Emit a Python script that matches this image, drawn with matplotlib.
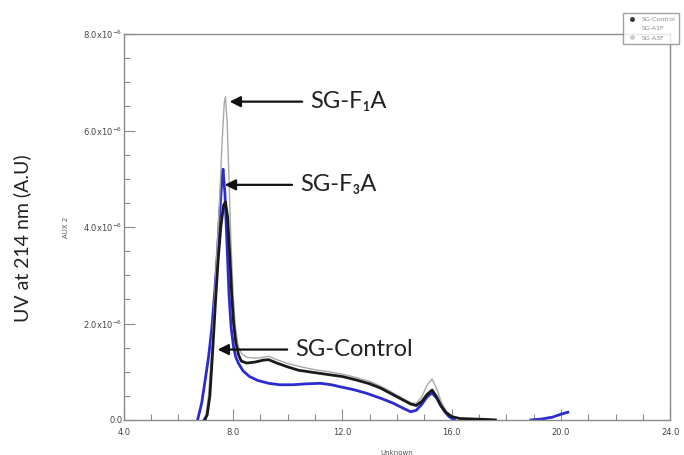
import numpy as np
import matplotlib
matplotlib.use("Agg")
import matplotlib.pyplot as plt
from matplotlib.lines import Line2D
from matplotlib.ticker import MultipleLocator, FixedLocator

# 洗脱时间 (x) 与紫外吸收 (y, 单位 1e-6)
ctrl_x = [6.95, 7.05, 7.15, 7.26, 7.35, 7.45, 7.55, 7.65, 7.72, 7.8, 7.88, 7.95, 8.02, 8.1, 8.2,
          8.3, 8.5, 8.8, 9.1, 9.3, 9.6, 10.0, 10.4, 11.0, 11.5, 12.0, 12.5, 13.0, 13.4, 13.8,
          14.2, 14.5, 14.7, 14.9, 15.1, 15.28, 15.45, 15.6, 15.8, 16.0, 16.3, 16.8, 17.3, 17.6]
ctrl_y = [0.0, 0.1, 0.5, 1.5, 2.4, 3.3, 4.0, 4.45, 4.52, 4.2, 3.4, 2.6, 2.0, 1.6, 1.35,
          1.22, 1.18, 1.2, 1.24, 1.25, 1.18, 1.1, 1.03, 0.98, 0.94, 0.9, 0.83, 0.75, 0.66, 0.54,
          0.42, 0.33, 0.30, 0.38, 0.53, 0.62, 0.48, 0.3, 0.15, 0.07, 0.03, 0.02, 0.01, 0.0]

f1a_x = [6.9, 7.0, 7.1, 7.2, 7.3, 7.4, 7.5, 7.6, 7.68, 7.72, 7.78, 7.85, 7.92, 8.0, 8.08, 8.18,
         8.3, 8.5, 8.8, 9.1, 9.3, 9.6, 10.0, 10.5, 11.0, 11.5, 12.0, 12.5, 13.0, 13.4, 13.8,
         14.2, 14.5, 14.7, 14.9, 15.1, 15.28, 15.45, 15.6, 15.8, 16.0, 16.3, 16.8]
f1a_y = [0.0, 0.1, 0.5, 1.3, 2.3, 3.4, 4.5, 5.8, 6.6, 6.7, 6.2, 5.0, 3.7, 2.6, 1.95, 1.55,
         1.38, 1.3, 1.28, 1.3, 1.32, 1.25, 1.17, 1.1, 1.04, 1.0, 0.95, 0.88, 0.8, 0.7, 0.58,
         0.45, 0.36, 0.34, 0.48, 0.72, 0.85, 0.65, 0.4, 0.18, 0.08, 0.03, 0.01]

f3a_x = [6.7, 6.85, 6.97, 7.1, 7.22, 7.32, 7.42, 7.5, 7.58, 7.63, 7.7, 7.78, 7.85, 7.93, 8.02,
         8.1, 8.2, 8.36, 8.6, 8.9, 9.3, 9.7, 10.2, 10.7, 11.2, 11.6, 11.9, 12.4, 12.9, 13.4,
         13.85, 14.2, 14.5, 14.7, 14.9, 15.1, 15.28, 15.45, 15.6, 15.75, 15.9, 16.1]
f3a_y = [0.0, 0.35, 0.8, 1.3, 1.9, 2.6, 3.4, 4.2, 4.9, 5.2, 4.7, 3.6, 2.6, 1.9, 1.5,
         1.3, 1.17, 1.02, 0.9, 0.82, 0.76, 0.73, 0.73, 0.75, 0.76, 0.73, 0.69, 0.63, 0.55, 0.45,
         0.35, 0.25, 0.17, 0.2, 0.32, 0.48, 0.56, 0.45, 0.3, 0.17, 0.07, 0.0]
f3a_tail_x = [18.9, 19.3, 19.7, 20.0, 20.25]
f3a_tail_y = [0.0, 0.02, 0.06, 0.12, 0.16]

y_ticks = [0, 2, 4, 6, 8]
y_ticklabels = ["0.0", "2.0x10$^{-6}$", "4.0x10$^{-6}$", "6.0x10$^{-6}$", "8.0x10$^{-6}$"]
x_ticks = [4, 8, 12, 16, 20, 24]
x_ticklabels = ["4.0", "8.0", "12.0", "16.0", "20.0", "24.0"]

legend_names = ["SG-Control", "SG-A1F", "SG-A3F"]

fig = plt.figure(figsize=(6.84, 4.55), dpi=100)
ax = fig.add_axes([0.181, 0.077, 0.799, 0.848])

ax.plot(f1a_x, f1a_y, color="#a8a8a8", lw=1.0, zorder=3)
ax.plot(f3a_x, f3a_y, color="#2b2bd0", lw=2.0, zorder=2)
ax.plot(f3a_tail_x, f3a_tail_y, color="#2b2bd0", lw=2.0, zorder=2)
ax.plot(ctrl_x, ctrl_y, color="#1a1a1a", lw=2.0, zorder=4)

ax.set_xlim(4, 24)
ax.set_ylim(0, 8)
ax.xaxis.set_major_locator(FixedLocator(x_ticks))
ax.set_xticklabels(x_ticklabels)
ax.xaxis.set_minor_locator(MultipleLocator(1))
ax.yaxis.set_major_locator(FixedLocator(y_ticks))
ax.set_yticklabels(y_ticklabels)
ax.yaxis.set_minor_locator(MultipleLocator(0.5))

for s in ax.spines.values():
    s.set_color("#8a8a8a")
    s.set_linewidth(1.0)
ax.tick_params(which="major", direction="in", length=8, width=0.8, color="#8a8a8a",
               labelsize=6, labelcolor="#444444", pad=1,
               top=False, right=False)
ax.tick_params(axis="x", which="major", pad=6)
ax.tick_params(which="minor", direction="in", length=4, width=0.8, color="#8a8a8a",
               top=False, right=False)

ax.set_ylabel("AUX 2", fontsize=5, color="#555555", labelpad=10)
ax.set_xlabel("Unknown", fontsize=5, color="#555555", labelpad=9)

fig.text(0.032, 0.477, "UV at 214 nm (A.U)", rotation=90, ha="center", va="center",
         fontsize=14, family=["Lato", "DejaVu Sans"], color="#222222")

# 峰的标注箭头
arrow_kw = dict(arrowstyle="-|>", color="#111111", lw=1.6, mutation_scale=16)
labels = [("SG-F\u2081A", 7.77, 10.63, 6.6),
          ("SG-F\u2083A", 7.59, 10.26, 4.875),
          ("SG-Control", 7.33, 10.08, 1.46)]
for txt, tip, tail, yy in labels:
    ax.annotate("", xy=(tip, yy), xytext=(tail, yy), arrowprops=arrow_kw, zorder=6)
    ax.text(tail + 0.18, yy, txt, ha="left", va="center", fontsize=17,
            family=["Lato", "DejaVu Sans"], color="#222222", zorder=6)

handles = [Line2D([], [], ls="none", marker="o", ms=2.5, color="#333333"),
           Line2D([], [], ls="none", marker="o", ms=2.5, color="#ffffff"),
           Line2D([], [], ls="none", marker="o", ms=2.5, color="#cccccc")]
leg = fig.legend(handles, legend_names, loc="upper right", bbox_to_anchor=(0.997, 0.978),
                 fontsize=4.5, frameon=True, fancybox=False, edgecolor="#8a8a8a",
                 labelcolor="#888888", handlelength=1.5, borderpad=0.6, labelspacing=0.6)
leg.get_frame().set_linewidth(1.0)

fig.savefig("out.png", dpi=100)
